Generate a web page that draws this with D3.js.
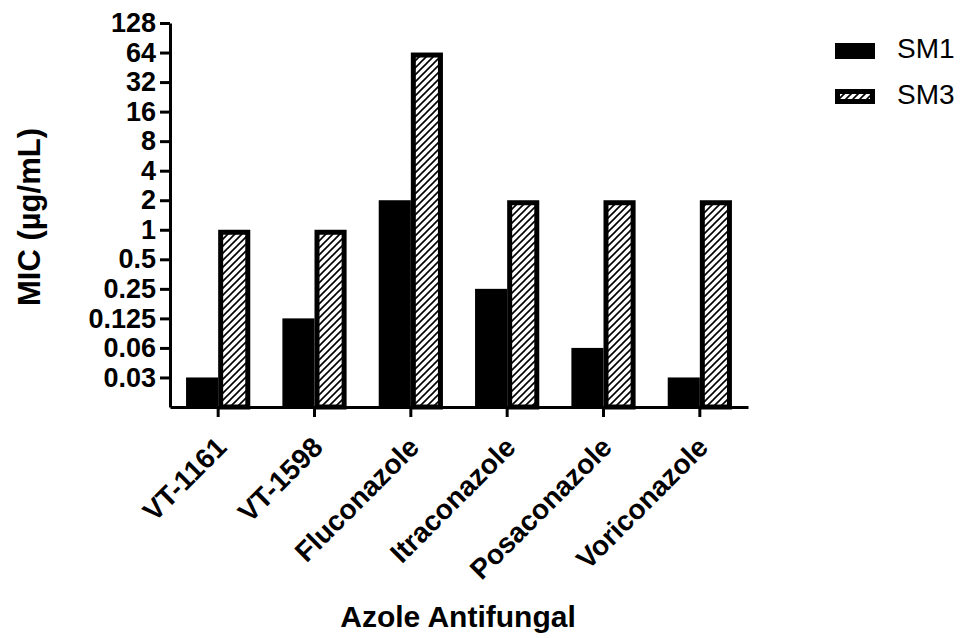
<!DOCTYPE html>
<html>
<head>
<meta charset="utf-8">
<script src="https://cdn.jsdelivr.net/npm/d3@7"></script>
<style>
    body { margin: 0; background: white; }
    text { font-family: "Liberation Sans", Arial, sans-serif; }
</style>
</head>
<body>
<div id="chart"></div>
<script>
// data
const categories = ["VT-1161", "VT-1598", "Fluconazole", "Itraconazole", "Posaconazole", "Voriconazole"]
const seriesNames = ["SM1", "SM3"]
const sm1 = [0.03125, 0.125, 2, 0.25, 0.0625, 0.03125]
const sm3 = [1, 1, 64, 2, 2, 2]
const tickValues = [0.03125, 0.0625, 0.125, 0.25, 0.5, 1, 2, 4, 8, 16, 32, 64, 128]
const tickLabels = ["0.03", "0.06", "0.125", "0.25", "0.5", "1", "2", "4", "8", "16", "32", "64", "128"]

const width = 963
const height = 638
const margin = { top: 23, left: 170, right: 215, bottom: 231 }
const plotBottom = height - margin.bottom
const plotRight = width - margin.right

const svg = d3.select("#chart")
    .append("svg")
    .attr("width", width)
    .attr("height", height)

//hatch pattern for SM3
const defs = svg.append("defs")
defs.append("pattern")
    .attr("id", "hatch")
    .attr("patternUnits", "userSpaceOnUse")
    .attr("width", 7)
    .attr("height", 7)
    .append("path")
    .attr("d", "M-1,8 L8,-1 M-2,2 L2,-2 M5,9 L9,5")
    .attr("stroke", "black")
    .attr("stroke-width", 1.6)

//scales
const y = d3.scaleLog()
    .base(2)
    .domain([1 / 64, 128])
    .range([plotBottom, margin.top])

const x0 = d3.scaleBand()
    .domain(categories)
    .range([margin.left, plotRight])
    .paddingInner(1 / 3)
    .paddingOuter(1 / 6)

const x1 = d3.scaleBand()
    .domain(seriesNames)
    .range([0, x0.bandwidth()])

const rows = categories.map((c, i) => ({ cat: c, SM1: sm1[i], SM3: sm3[i] }))

//SM1 bars: solid black
svg.append("g")
    .selectAll("rect")
    .data(rows)
    .join("rect")
    .attr("x", d => x0(d.cat) + x1("SM1"))
    .attr("y", d => y(d.SM1))
    .attr("width", x1.bandwidth())
    .attr("height", d => plotBottom - y(d.SM1))
    .attr("fill", "black")

//SM3 bars: hatched with thick border
const sw = 5
svg.append("g")
    .selectAll("rect")
    .data(rows)
    .join("rect")
    .attr("x", d => x0(d.cat) + x1("SM3") + sw / 2)
    .attr("y", d => y(d.SM3) + sw / 2)
    .attr("width", x1.bandwidth() - sw)
    .attr("height", d => plotBottom - y(d.SM3) - sw / 2)
    .attr("fill", "url(#hatch)")
    .attr("stroke", "black")
    .attr("stroke-width", sw)

//y axis
const yAxis = svg.append("g")
    .attr("transform", `translate(${margin.left},0)`)
    .call(d3.axisLeft(y)
        .tickValues(tickValues)
        .tickFormat((d, i) => tickLabels[i])
        .tickSize(10)
        .tickSizeOuter(0)
        .tickPadding(4))

//x axis
const xAxis = svg.append("g")
    .attr("transform", `translate(0,${plotBottom})`)
    .call(d3.axisBottom(x0).tickSize(10).tickSizeOuter(0).tickFormat(""))

svg.selectAll(".domain, .tick line")
    .attr("stroke", "black")
    .attr("stroke-width", 3)

yAxis.selectAll(".tick text")
    .attr("font-size", 27)
    .attr("font-weight", "bold")
    .attr("fill", "black")
    .attr("font-family", "'Liberation Sans', Arial, sans-serif")

//rotated category labels
svg.append("g")
    .selectAll("text")
    .data(categories)
    .join("text")
    .attr("transform", d => `translate(${x0(d) + x0.bandwidth() / 2 + 10},${plotBottom + 42}) rotate(-45)`)
    .attr("text-anchor", "end")
    .attr("font-size", 28)
    .attr("font-weight", "bold")
    .text(d => d)

//axis titles
svg.append("text")
    .attr("x", 458)
    .attr("y", 627)
    .attr("text-anchor", "middle")
    .attr("font-size", 30)
    .attr("font-weight", "bold")
    .text("Azole Antifungal")

svg.append("text")
    .attr("transform", "translate(40,217) rotate(-90)")
    .attr("text-anchor", "middle")
    .attr("font-size", 31)
    .attr("font-weight", "bold")
    .text("MIC (µg/mL)")

//legend
const legend = svg.append("g")
const legendY = [43, 89]
legend.selectAll("rect")
    .data(seriesNames)
    .join("rect")
    .attr("x", (d, i) => i == 0 ? 835 : 835 + sw / 2)
    .attr("y", (d, i) => i == 0 ? legendY[i] : legendY[i] + sw / 2)
    .attr("width", (d, i) => i == 0 ? 40 : 40 - sw)
    .attr("height", (d, i) => i == 0 ? 16 : 15 - sw)
    .attr("fill", (d, i) => i == 0 ? "black" : "url(#hatch)")
    .attr("stroke", (d, i) => i == 0 ? "none" : "black")
    .attr("stroke-width", sw)

legend.selectAll("text")
    .data(seriesNames)
    .join("text")
    .attr("x", 897)
    .attr("y", (d, i) => legendY[i] + 15)
    .attr("font-size", 28)
    .text(d => d)
</script>
</body>
</html>
